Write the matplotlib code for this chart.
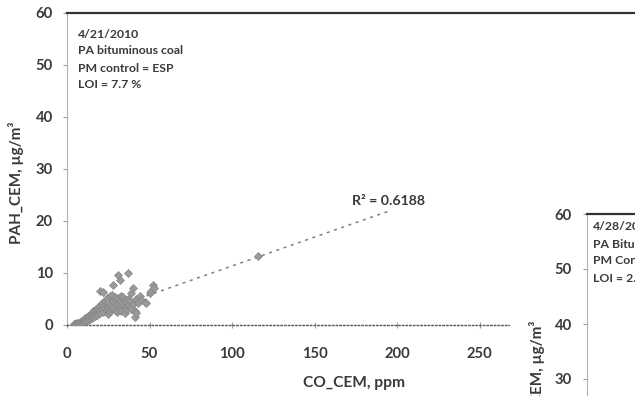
import matplotlib
matplotlib.use("Agg")
import matplotlib.pyplot as plt
from matplotlib.patches import Rectangle

plt.rcParams['font.family'] = ['Lato', 'DejaVu Sans']

# CO_CEM (ppm) vs PAH_CEM (ug/m3), 4/21/2010 test day
co_cem = [4.5, 5, 5.5, 6, 6.5, 7, 7.5, 8, 8, 8.5, 9, 9, 9.5, 10, 10, 10.5, 11, 11,
          11.5, 12, 12, 12.5, 13, 13, 13.5, 14, 14, 14.5, 15, 15, 15.5, 16, 16,
          16.5, 17, 17, 17.5, 18, 18, 18.5, 19, 19, 19.5, 20, 20, 20,
          21, 21, 22, 22, 22, 23, 23, 24, 24, 24, 25, 25, 25, 26, 26, 26, 27, 27,
          27, 28, 28, 28, 29, 29, 29, 30, 30, 30, 31, 31, 31, 32, 32, 32, 33, 33,
          33, 34, 34, 35, 35, 35, 36, 36, 37, 37, 37, 38, 38, 39, 39, 40, 40, 41,
          41, 42, 42, 43, 44, 45, 47, 48, 50, 51, 52, 53, 116]
pah_cem = [0.1, 0.2, 0.1, 0.3, 0.2, 0.4, 0.3, 0.5, 0.2, 0.6, 0.4, 0.8, 0.6, 0.9, 0.5,
           1.1, 0.7, 1.3, 1.0, 1.5, 0.8, 1.2, 1.8, 1.0, 1.5, 2.0, 1.2, 1.7, 2.3, 1.4,
           1.9, 2.6, 1.5, 2.1, 2.8, 1.7, 2.4, 3.1, 1.9, 2.6, 3.4, 2.1, 2.8, 3.7, 2.3,
           6.5,
           3.0, 4.2, 2.5, 3.6, 6.3, 3.2, 4.6, 2.8, 3.9, 5.2, 3.4, 2.2, 4.5, 3.7, 5.5,
           2.6, 4.0, 3.0, 5.8, 3.5, 4.6, 7.7, 2.8, 4.2, 5.4, 3.6, 4.8, 2.5, 4.0, 9.6,
           5.2, 3.2, 4.6, 8.7, 3.8, 5.6, 2.7, 4.2, 5.4, 3.5, 4.9, 2.4, 4.4, 3.1, 10.0,
           5.0, 3.8, 3.5, 4.6, 6.2, 3.0, 7.1, 4.0, 1.5, 2.6, 2.3, 5.0, 4.2, 5.5, 4.8,
           4.4, 4.2, 6.2, 6.5, 7.7, 7.2, 13.2]

# linear trendline (with forward forecast)
trend_x = [4.5, 195]
trend_slope = 0.111
trend_intercept = 0.25
r_squared = 0.6188

x_ticks = [0, 50, 100, 150, 200, 250, 300, 350]
y_ticks = [0, 10, 20, 30, 40, 50, 60]

info_1 = ["4/21/2010", "PA bituminous coal", "PM control = ESP", "LOI = 7.7 %"]
info_2 = ["4/28/2010", "PA Bituminous coal", "PM Control = ESP", "LOI = 2.9 %"]

TXT = '#3a3a3a'
W, H = 635, 396

def fx(px):
    return px / W

def fy(py):
    return 1 - py / H

fig = plt.figure(figsize=(6.35, 3.96), dpi=100)

# ---- first chart ----
ax = fig.add_axes([fx(67), fy(325), 577.5 / W, 312 / H])
ax.set_xlim(0, 350)
ax.set_ylim(0, 60)
ax.plot(co_cem, pah_cem, linestyle='none', marker='D', ms=4.2,
        mfc='#9a9a9a', mec='#858585', mew=0.5, zorder=3)
ty = [trend_slope * x + trend_intercept for x in trend_x]
ax.plot(trend_x, ty, color='#808080', lw=1.1, linestyle=(0, (2.0, 3.0)), zorder=2)
ax.text(195, 23.8, f"R² = {r_squared:.4f}", ha='center', va='center',
        fontsize=10.2, color=TXT, fontweight='bold')

ax.set_xticks(x_ticks)
ax.set_yticks(y_ticks)
ax.tick_params(axis='y', direction='out', length=3, width=0.8, color='#a0a0a0',
               pad=7, labelsize=10.6, labelcolor=TXT)
ax.tick_params(axis='x', direction='inout', length=4, width=0.8, color='#a0a0a0',
               pad=14, labelsize=10.6, labelcolor=TXT)
for lab in ax.get_xticklabels() + ax.get_yticklabels():
    lab.set_fontweight('bold')

ax.spines['left'].set_color('#b0b0b0')
ax.spines['left'].set_linewidth(0.8)
ax.spines['bottom'].set_color('#555555')
ax.spines['bottom'].set_linestyle(':')
ax.spines['bottom'].set_linewidth(1.0)
ax.spines['top'].set_color('#333333')
ax.spines['top'].set_linewidth(1.6)
ax.spines['right'].set_visible(False)

fig.text(fx(354), fy(383), "CO_CEM, ppm", ha='center', va='center',
         fontsize=11.2, color=TXT, fontweight='bold')
fig.text(fx(16), fy(183), "PAH_CEM, µg/m³", ha='center', va='center',
         rotation=90, fontsize=11, color=TXT, fontweight='bold')

for i, line in enumerate(info_1):
    fig.text(fx(78), fy(34 + 17 * i), line, ha='left', va='center',
             fontsize=8.8, color=TXT, fontweight='bold')

# ---- second chart, overlapping at lower right ----
cover = Rectangle((fx(510), 0), 1 - fx(510), fy(192), transform=fig.transFigure,
                  facecolor='white', edgecolor='none', zorder=1)
fig.patches.append(cover)

ax2 = fig.add_axes([fx(587), fy(544), 577.5 / W, 330 / H], zorder=2)
ax2.set_xlim(0, 350)
ax2.set_ylim(0, 60)
ax2.set_yticks(y_ticks)
ax2.set_xticks([])
ax2.tick_params(axis='y', direction='out', length=3, width=0.8, color='#a0a0a0',
                pad=8, labelsize=10.6, labelcolor=TXT)
for lab in ax2.get_yticklabels():
    lab.set_fontweight('bold')
ax2.spines['left'].set_color('#b0b0b0')
ax2.spines['left'].set_linewidth(0.8)
ax2.spines['top'].set_color('#333333')
ax2.spines['top'].set_linewidth(1.6)
ax2.spines['right'].set_visible(False)
ax2.spines['bottom'].set_visible(False)

fig.text(fx(537), fy(382), "PAH_CEM, µg/m³", ha='center', va='center',
         rotation=90, fontsize=11, color=TXT, fontweight='bold', zorder=3)
for i, line in enumerate(info_2):
    fig.text(fx(593), fy(227 + 17 * i), line, ha='left', va='center',
             fontsize=8.8, color=TXT, fontweight='bold', zorder=3)

fig.savefig("out.png", dpi=100)
